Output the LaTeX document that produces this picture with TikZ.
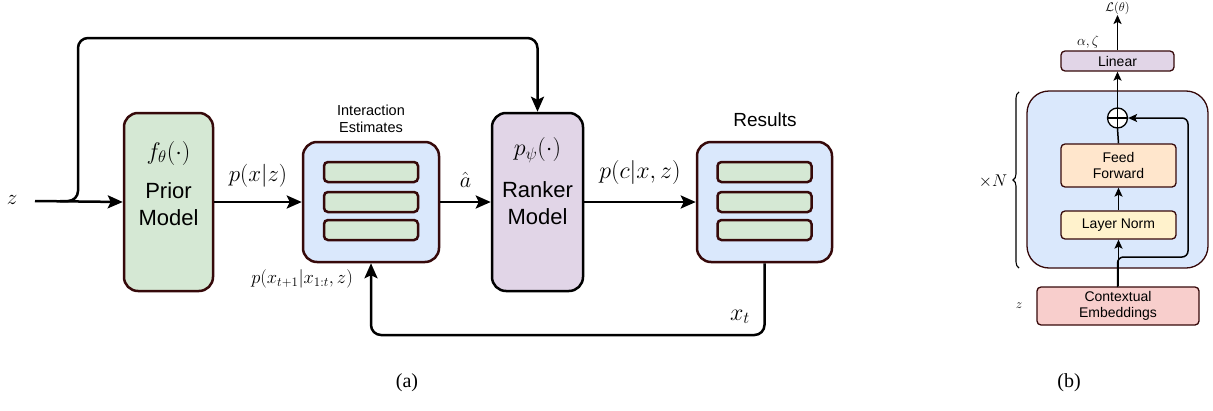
\RequirePackage{fix-cm}
\documentclass[tikz,border=0pt]{standalone}
\usepackage{fontspec}
\setmainfont{Liberation Serif}
\setsansfont{Liberation Sans}
\usetikzlibrary{arrows.meta,decorations.pathreplacing,calc}
\definecolor{bord}{HTML}{36090A}
\definecolor{gfill}{HTML}{D5E8D4}
\definecolor{bfill}{HTML}{DAE8FC}
\definecolor{pfill}{HTML}{E1D5E7}
\definecolor{ofill}{HTML}{FFE6CC}
\definecolor{yfill}{HTML}{FFF2CC}
\definecolor{rfill}{HTML}{F8CECC}
\begin{document}
\begin{tikzpicture}[x=1pt,y=-1pt,
  abox/.style={draw=bord,line width=2.5pt,rounded corners=14pt,inner sep=0pt},
  bar/.style={draw=bord,fill=gfill,line width=2.5pt,rounded corners=4pt,minimum width=94pt,minimum height=20pt,inner sep=0pt},
  bbox/.style={draw=bord,line width=1.3pt,rounded corners=4pt,inner sep=0pt,font=\sffamily\fontsize{14}{16}\selectfont,align=center},
  arr/.style={line width=2.5pt,-{Stealth[length=15pt,width=13pt,inset=3pt]}},
  arrb/.style={line width=1.5pt,-{Stealth[length=9pt,width=8pt,inset=2pt]}},
  lnb/.style={line width=1.5pt},
  lab/.style={inner sep=0pt},
  big/.style={font=\sffamily\fontsize{22}{27}\selectfont,align=center,inner sep=0pt},
]
\useasboundingbox (0,0) rectangle (1213,410);

% ---------- (a) ----------
\node[lab,font=\fontsize{21}{23}\selectfont] (z) at (12,200) {$z$};
\coordinate (zin) at (35,201);
\node[abox,fill=gfill,minimum width=89pt,minimum height=178pt] (prior) at (168.5,202) {};
\node[lab,font=\fontsize{24}{26}\selectfont] (ftheta) at (168.5,153) {$f_\theta(\cdot)$};
\node[big] (priortxt) at (168.5,204) {Prior\\Model};

\node[abox,fill=bfill,minimum width=136pt,minimum height=120pt] (inter) at (371,202) {};
\node[bar] (i1) at (371,172) {};
\node[bar] (i2) at (371,202) {};
\node[bar] (i3) at (371,230) {};
\node[lab,font=\sffamily\fontsize{14.5}{17}\selectfont,align=center] (intertxt) at (371,119) {Interaction\\Estimates};

\node[abox,draw=black,fill=pfill,minimum width=91pt,minimum height=178pt] (ranker) at (537.5,202) {};
\node[lab,font=\fontsize{24}{26}\selectfont] (ppsi) at (537.5,150) {$p_\psi(\cdot)$};
\node[big] (rankertxt) at (537.5,203) {Ranker\\Model};

\node[abox,fill=bfill,minimum width=135pt,minimum height=120pt] (res) at (764.5,202) {};
\node[bar] (r1) at (764.5,172) {};
\node[bar] (r2) at (764.5,202) {};
\node[bar] (r3) at (764.5,230) {};
\node[lab,font=\sffamily\fontsize{19}{22}\selectfont] (restxt) at (765,120) {Results};

\draw[arr] (zin) -- (prior.west);
\coordinate (br1) at (78,201);
\coordinate (br2) at (78,38);
\coordinate (br3) at (537.5,38);
\draw[arr,rounded corners=10pt] (60,201) -- (br1) -- (br2) -- (br3) -- (ranker.north);
\draw[arr] (prior.east) -- (inter.west) node[lab,midway,above=14pt,font=\fontsize{23}{25}\selectfont] (pxz) {$p(x|z)$};
\draw[arr] (inter.east) -- (ranker.west) node[lab,midway,above=13pt,font=\fontsize{22}{24}\selectfont] (ahat) {$\hat a$};
\draw[arr] (ranker.east) -- (res.west) node[lab,midway,above=16pt,font=\fontsize{24}{26}\selectfont] (pcxz) {$p(c|x,z)$};
\coordinate (fbR) at (764.5,335);
\coordinate (fbL) at (371,335);
\draw[arr,rounded corners=10pt] (res.south) -- (fbR) -- (fbL) -- (inter.south);
\node[lab,font=\fontsize{24}{26}\selectfont] (xt) at (740,317) {$x_t$};
\node[lab,font=\fontsize{18.5}{20}\selectfont,anchor=east] (pnext) at (353,279) {$p(x_{t+1}|x_{1:t},z)$};

\node[lab,font=\fontsize{20}{22}\selectfont] (capa) at (407,383) {(a)};

% ---------- (b) ----------
\node[draw=bord,line width=1.3pt,rounded corners=22pt,fill=bfill,minimum width=181pt,minimum height=177pt,inner sep=0pt] (bigb) at (1117.5,179.5) {};
\node[bbox,fill=pfill,minimum width=113pt,minimum height=20pt] (lin) at (1117.5,61) {Linear};
\node[bbox,fill=ofill,minimum width=115pt,minimum height=43pt] (ff) at (1118.5,165.5) {Feed\\Forward};
\node[bbox,fill=yfill,minimum width=115pt,minimum height=28pt] (lnorm) at (1118.5,225) {Layer Norm};
\node[bbox,fill=rfill,minimum width=162pt,minimum height=38pt] (ce) at (1118,306) {Contextual\\Embeddings};
\node[draw=black,line width=1.3pt,circle,minimum size=20pt,inner sep=0pt,fill=white] (plus) at (1117.5,118) {};
\draw[line width=1.3pt] (plus.north) -- (plus.south) (plus.west) -- (plus.east);
\node[lab,font=\fontsize{12.5}{14}\selectfont] (loss) at (1117.5,8.5) {$\mathcal{L}(\theta)$};
\node[lab,font=\fontsize{14}{16}\selectfont] (alz) at (1088,42) {$\alpha,\zeta$};
\node[lab,font=\fontsize{13}{15}\selectfont] (zb) at (1019,306) {$z$};
\node[lab,font=\fontsize{17}{19}\selectfont] (xN) at (993,181) {$\times N$};

\draw[arrb] (lin.north) -- (loss.south);
\draw[arrb] (plus.north) -- (lin.south);
\draw[lnb] (ff.north) -- (plus.south);
\draw[arrb] (lnorm.north) -- (ff.south);
\draw[arrb] (ce.north -| lnorm.south) -- (lnorm.south);
\coordinate (rs1) at (1117.5,257);
\coordinate (rs2) at (1188,257);
\coordinate (rs3) at (1188,118);
\draw[arrb,rounded corners=6pt] (1117.5,287) -- (rs1) -- (rs2) -- (rs3) -- (plus.east);
\draw[line width=1.1pt,decorate,decoration={brace,amplitude=6pt}] (1019,268) -- (1019,92);

\node[lab,font=\fontsize{20}{22}\selectfont] (capb) at (1069,383) {(b)};
\end{tikzpicture}
\end{document}
